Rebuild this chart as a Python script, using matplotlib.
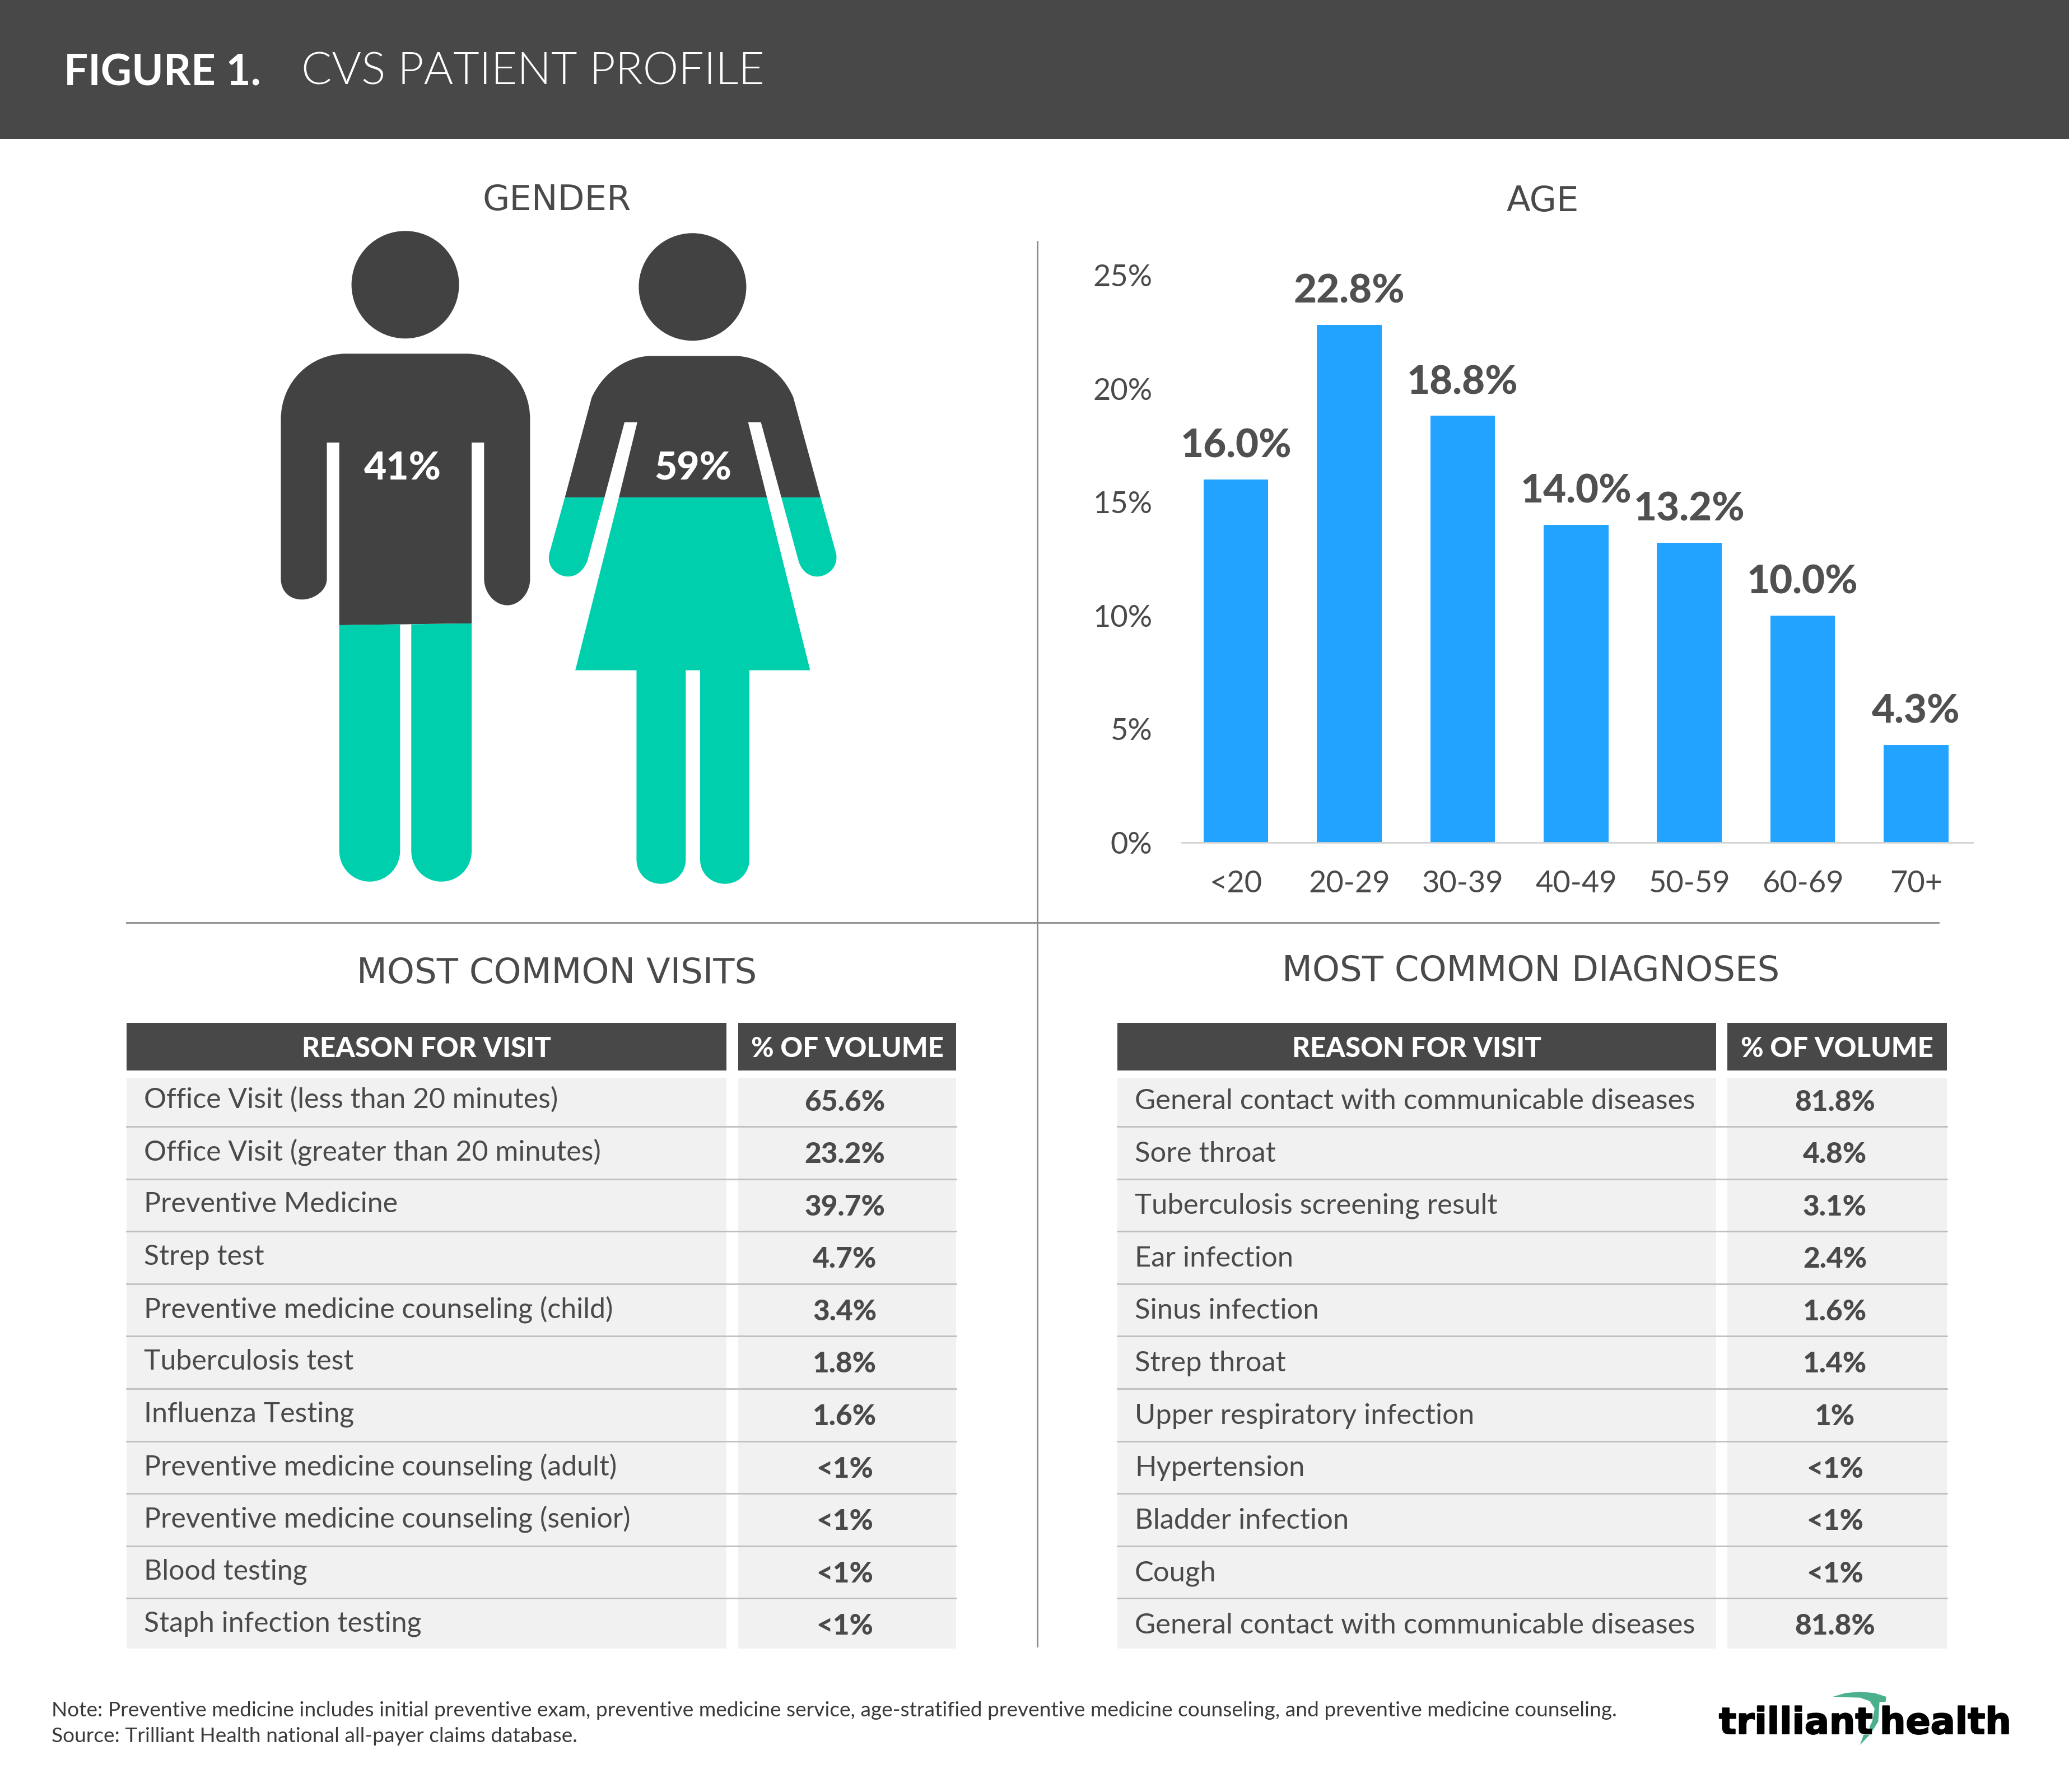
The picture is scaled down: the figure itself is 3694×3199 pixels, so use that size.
import matplotlib
matplotlib.use("Agg")
import matplotlib.pyplot as plt
import matplotlib.patheffects as pe
from matplotlib.path import Path
from matplotlib.patches import PathPatch, Circle, Rectangle

plt.rcParams['font.family'] = ['Lato', 'DejaVu Sans']

gender_labels = ["41%", "59%"]

age_labels = ["<20", "20-29", "30-39", "40-49", "50-59", "60-69", "70+"]
age_values = [16.0, 22.8, 18.8, 14.0, 13.2, 10.0, 4.3]
age_ticks = [0, 5, 10, 15, 20, 25]

visit_reasons = [
    "Office Visit (less than 20 minutes)", "Office Visit (greater than 20 minutes)",
    "Preventive Medicine", "Strep test", "Preventive medicine counseling (child)",
    "Tuberculosis test", "Influenza Testing", "Preventive medicine counseling (adult)",
    "Preventive medicine counseling (senior)", "Blood testing", "Staph infection testing",
]
visit_shares = ["65.6%", "23.2%", "39.7%", "4.7%", "3.4%", "1.8%", "1.6%", "<1%", "<1%", "<1%", "<1%"]

diag_reasons = [
    "General contact with communicable diseases", "Sore throat", "Tuberculosis screening result",
    "Ear infection", "Sinus infection", "Strep throat", "Upper respiratory infection",
    "Hypertension", "Bladder infection", "Cough", "General contact with communicable diseases",
]
diag_shares = ["81.8%", "4.8%", "3.1%", "2.4%", "1.6%", "1.4%", "1%", "<1%", "<1%", "<1%", "81.8%"]

notes = [
    "Note: Preventive medicine includes initial preventive exam, preventive medicine service, age-stratified preventive medicine counseling, and preventive medicine counseling.",
    "Source: Trilliant Health national all-payer claims database.",
]

W, H = 3694, 3199
DARK = "#424242"
HEAD = "#484848"
TEXT = "#4a4a4a"
TEAL = "#00CFAE"
BLUE = "#22A3FF"
ROW = "#F1F1F1"
SEP = "#BFBFBF"
LINE = "#8a8a8a"

fig = plt.figure(figsize=(W / 100, H / 100), dpi=100, facecolor="white")
bg = fig.add_axes([0, 0, 1, 1])
bg.set_xlim(0, W)
bg.set_ylim(H, 0)
bg.axis("off")

# header band
bg.add_patch(Rectangle((0, 0), W, 248, color=HEAD, lw=0))
bg.text(114, 130, "FIGURE 1.", color="white", fontsize=55, fontweight="bold", va="center", ha="left")
bg.text(538, 128, "CVS PATIENT PROFILE", color="white", fontsize=58, fontweight=300, va="center", ha="left")

# section titles, DejaVu is wide enough to stand in for the tracked caps
for x, y, s in [(994, 358, "GENDER"), (2754, 360, "AGE"),
                (994, 1738, "MOST COMMON VISITS"), (2733, 1734, "MOST COMMON DIAGNOSES")]:
    bg.text(x, y, s, color=TEXT, fontsize=45, family="DejaVu Sans", va="center", ha="center")

# dividers
bg.plot([1852, 1852], [431, 2939], color=LINE, lw=2)
bg.plot([226, 3461], [1647, 1647], color=LINE, lw=2)


# pictogram shapes, traced in the scale of the zoomed crop
def z(x, y):
    return 450 + x / 1.4, 382 + y / 1.267


def shape(cmds, color):
    verts, codes = [], []
    for c in cmds:
        if c[0] == "M":
            verts.append(z(c[1], c[2])); codes.append(Path.MOVETO)
        elif c[0] == "L":
            verts.append(z(c[1], c[2])); codes.append(Path.LINETO)
        else:
            verts += [z(c[1], c[2]), z(c[3], c[4]), z(c[5], c[6])]
            codes += [Path.CURVE4] * 3
    verts.append(verts[0]); codes.append(Path.CLOSEPOLY)
    bg.add_patch(PathPatch(Path(verts, codes), facecolor=color, edgecolor="none", lw=0))


# man
bg.add_patch(Circle(z(383, 160), 96, color=DARK, lw=0))
shape([("M", 72, 465), ("C", 72, 380, 145, 316, 235, 316), ("L", 535, 316),
       ("C", 625, 316, 695, 380, 695, 465), ("L", 695, 825),
       ("C", 695, 858, 668, 885, 638, 885), ("C", 608, 885, 580, 858, 580, 825),
       ("L", 580, 517), ("L", 549, 517), ("L", 549, 926), ("L", 218, 930), ("L", 218, 517),
       ("L", 187, 517), ("L", 187, 825), ("C", 187, 852, 155, 872, 125, 872),
       ("C", 92, 872, 72, 852, 72, 825)], DARK)
shape([("M", 218, 930), ("L", 370, 928), ("L", 370, 1440), ("C", 370, 1480, 335, 1510, 294, 1510),
       ("C", 253, 1510, 218, 1480, 218, 1440)], TEAL)
shape([("M", 398, 928), ("L", 549, 926), ("L", 549, 1440), ("C", 549, 1480, 515, 1510, 473, 1510),
       ("C", 432, 1510, 398, 1480, 398, 1440)], TEAL)

# woman
bg.add_patch(Circle(z(1101, 165), 96, color=DARK, lw=0))
shape([("M", 849, 415), ("C", 880, 355, 940, 321, 1000, 321), ("L", 1205, 321),
       ("C", 1265, 321, 1325, 355, 1353, 415), ("L", 1421, 641), ("L", 1323, 641),
       ("L", 1272, 471), ("L", 1240, 471), ("L", 1287, 641), ("L", 917, 641), ("L", 963, 471),
       ("L", 931, 471), ("L", 881, 641), ("L", 782, 641)], DARK)
shape([("M", 782, 641), ("L", 881, 641), ("L", 838, 785), ("C", 828, 808, 810, 820, 790, 820),
       ("C", 762, 820, 736, 798, 743, 768)], TEAL)
shape([("M", 1323, 641), ("L", 1421, 641), ("L", 1460, 768), ("C", 1466, 798, 1440, 820, 1412, 820),
       ("C", 1392, 820, 1374, 808, 1366, 785)], TEAL)
shape([("M", 917, 641), ("L", 1287, 641), ("L", 1395, 1032), ("L", 1243, 1032), ("L", 1243, 1460),
       ("C", 1243, 1492, 1215, 1515, 1182, 1515), ("C", 1148, 1515, 1120, 1492, 1120, 1460),
       ("L", 1120, 1032), ("L", 1084, 1032), ("L", 1084, 1460),
       ("C", 1084, 1492, 1056, 1515, 1022, 1515), ("C", 988, 1515, 961, 1492, 961, 1460),
       ("L", 961, 1032), ("L", 808, 1032)], TEAL)

for x, s in zip([719, 1237], gender_labels):
    bg.text(x, 837, s, color="white", fontsize=50, fontweight="black", va="center", ha="center")

# age bars
ax = fig.add_axes([2110 / W, 1 - 1504 / H, (3522 - 2110) / W, (1504 - 491) / H])
ax.patch.set_alpha(0)
positions = list(range(len(age_values)))
ax.bar(positions, age_values, width=0.571, color=BLUE)
ax.set_xlim(-0.478, 6.5)
ax.set_ylim(0, 25)
ax.set_xticks(positions, age_labels)
ax.set_yticks(age_ticks, [f"{t}%" for t in age_ticks])
ax.tick_params(axis="both", length=0, labelsize=39, labelcolor=TEXT)
ax.tick_params(axis="x", pad=35)
ax.tick_params(axis="y", pad=38)
for side in ["top", "right", "left"]:
    ax.spines[side].set_visible(False)
ax.spines["bottom"].set_color("#d0d0d0")
ax.spines["bottom"].set_linewidth(2)
for p, v in zip(positions, age_values):
    ax.text(p, v + 0.67, f"{v:.1f}%", color="#505050", fontsize=51, fontweight="black",
            ha="center", va="bottom", clip_on=False)


# tables
def draw_table(x0, x1, x2, x3, reasons, shares, label_size, dy):
    for l, r, s in [(x0, x1, "REASON FOR VISIT"), (x2, x3, "% OF VOLUME")]:
        bg.add_patch(Rectangle((l, 1826), r - l, 85, color=HEAD, lw=0))
        bg.text((l + r) / 2, 1872, s, color="white", fontsize=35.5, fontweight="black",
                va="center", ha="center")
    bg.add_patch(Rectangle((x0, 1924), x1 - x0, 1019, color=ROW, lw=0))
    bg.add_patch(Rectangle((x2, 1924), x3 - x2, 1019, color=ROW, lw=0))
    for i, (reason, share) in enumerate(zip(reasons, shares)):
        y = 1963 + i * 93.6
        bg.text(x0 + 31, y + dy, reason, color=TEXT, fontsize=label_size, va="center", ha="left")
        bg.text((x2 + x3) / 2 - 4, y + 5, share, color=TEXT, fontsize=37, fontweight="black",
                va="center", ha="center")
        if i < len(reasons) - 1:
            ysep = 2011 + i * 93.6
            bg.plot([x0, x3], [ysep, ysep], color=SEP, lw=2)


draw_table(226, 1297, 1318, 1707, visit_reasons, visit_shares, 36, 0)
draw_table(1995, 3064, 3084, 3476, diag_reasons, diag_shares, 36.5, 3)

# notes
bg.text(92, 3054, notes[0], color="#3a3a3a", fontsize=26.7, va="center", ha="left")
bg.text(92, 3099, notes[1], color="#3a3a3a", fontsize=26.7, va="center", ha="left")

# logo
swoosh = [(628, 207), (680, 187), (740, 180), (800, 187), (848, 207), (845, 235), (820, 235),
          (815, 340), (782, 408), (740, 465), (755, 410), (783, 410), (780, 365), (790, 340),
          (800, 270), (780, 230), (740, 212)]
bg.fill([3000 + a / 2.306 for a, b in swoosh], [2960 + b / 3 for a, b in swoosh], color="#4CB08C", lw=0)
fat = [pe.withStroke(linewidth=1.5, foreground="black")]
for x, s in [(3069, "trilliant"), (3356, "health")]:
    bg.text(x, 3095, s, color="black", fontsize=47, fontweight="bold", family="DejaVu Sans",
            va="baseline", ha="left", path_effects=fat)

fig.savefig("out.png", dpi=100)
